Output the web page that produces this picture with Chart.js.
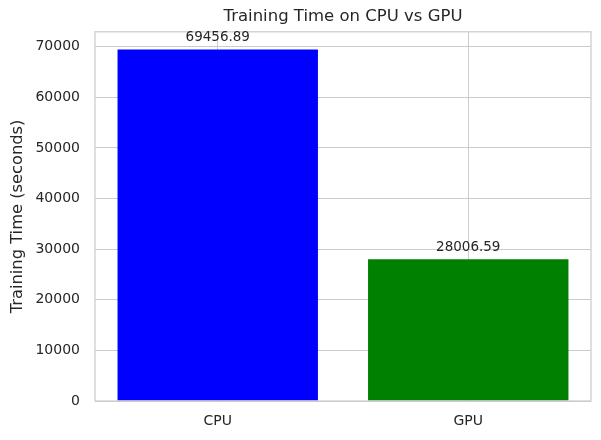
<!DOCTYPE html>
<html>
<head>
<meta charset="utf-8">
<script src="https://cdn.jsdelivr.net/npm/chart.js@4"></script>
<style>
  html, body { margin: 0; padding: 0; background: #ffffff; }
  #wrap { width: 601px; height: 440px; }
</style>
</head>
<body>
<div id="wrap"><canvas id="c" width="601" height="440"></canvas></div>
<script>
const categories = ['CPU', 'GPU'];
const trainingTimes = [69456.89, 28006.59];
const valueLabels = ['69456.89', '28006.59'];
const barColors = ['#0000ff', '#008000'];
const yTickValues = [0, 10000, 20000, 30000, 40000, 50000, 60000, 70000];
const yAxisMax = 72930;
const xAxisMin = -0.49;
const xAxisMax = 1.49;

const textColor = '#262626';
const gridColor = '#cccccc';
const fontFamily = "'DejaVu Sans', sans-serif";

const frame = {
  id: 'frame',
  afterLayout(chart) {
    const t = chart.titleBlock;
    if (t) { t.left = chart.chartArea.left; t.right = chart.chartArea.right; }
  },
  afterDatasetsDraw(chart) {
    const { ctx, chartArea: a } = chart;
    ctx.save();
    ctx.strokeStyle = gridColor;
    ctx.lineWidth = 1.25;
    ctx.strokeRect(a.left, a.top, a.right - a.left, a.bottom - a.top);
    const meta = chart.getDatasetMeta(0);
    ctx.fillStyle = textColor;
    ctx.font = "13.5px " + fontFamily;
    ctx.textAlign = 'center';
    ctx.textBaseline = 'bottom';
    meta.data.forEach((bar, i) => {
      ctx.fillText(valueLabels[i], bar.x, bar.y - 5);
    });
    ctx.restore();
  }
};

new Chart(document.getElementById('c'), {
  type: 'bar',
  data: {
    datasets: [{
      data: categories.map((c, i) => ({ x: i, y: trainingTimes[i] })),
      backgroundColor: barColors,
      borderWidth: 0,
      barPercentage: 0.8,
      categoryPercentage: 1.0
    }]
  },
  options: {
    responsive: false,
    animation: false,
    devicePixelRatio: 1,
    layout: { padding: { left: 0, right: 10, top: 0, bottom: 0 } },
    plugins: {
      legend: { display: false },
      tooltip: { enabled: false },
      title: {
        display: true,
        text: 'Training Time on CPU vs GPU',
        color: textColor,
        font: { family: fontFamily, size: 16.5, weight: 'normal' },
        padding: { top: 7, bottom: 5 }
      }
    },
    scales: {
      x: {
        type: 'linear',
        min: xAxisMin,
        max: xAxisMax,
        offset: false,
        grid: { display: true, offset: false, color: gridColor, lineWidth: 1, drawTicks: false },
        border: { display: false },
        afterBuildTicks(scale) {
          scale.ticks = categories.map((c, i) => ({ value: i }));
        },
        ticks: {
          color: textColor,
          font: { family: fontFamily, size: 14 },
          padding: 12,
          callback: v => categories[v]
        },
        afterFit(scale) { scale.height = 39; }
      },
      y: {
        min: 0,
        max: yAxisMax,
        grid: { color: gridColor, lineWidth: 1, drawTicks: false },
        border: { display: false },
        ticks: {
          color: textColor,
          font: { family: fontFamily, size: 14 },
          padding: 15,
          callback: v => String(v)
        },
        afterBuildTicks(scale) {
          scale.ticks = yTickValues.map(v => ({ value: v }));
        },
        title: {
          display: true,
          text: 'Training Time (seconds)',
          color: textColor,
          font: { family: fontFamily, size: 16.3, weight: 'normal' },
          padding: { top: 8, bottom: 0 }
        },
        afterFit(scale) { scale.width = 95; }
      }
    }
  },
  plugins: [frame]
});
</script>
</body>
</html>
